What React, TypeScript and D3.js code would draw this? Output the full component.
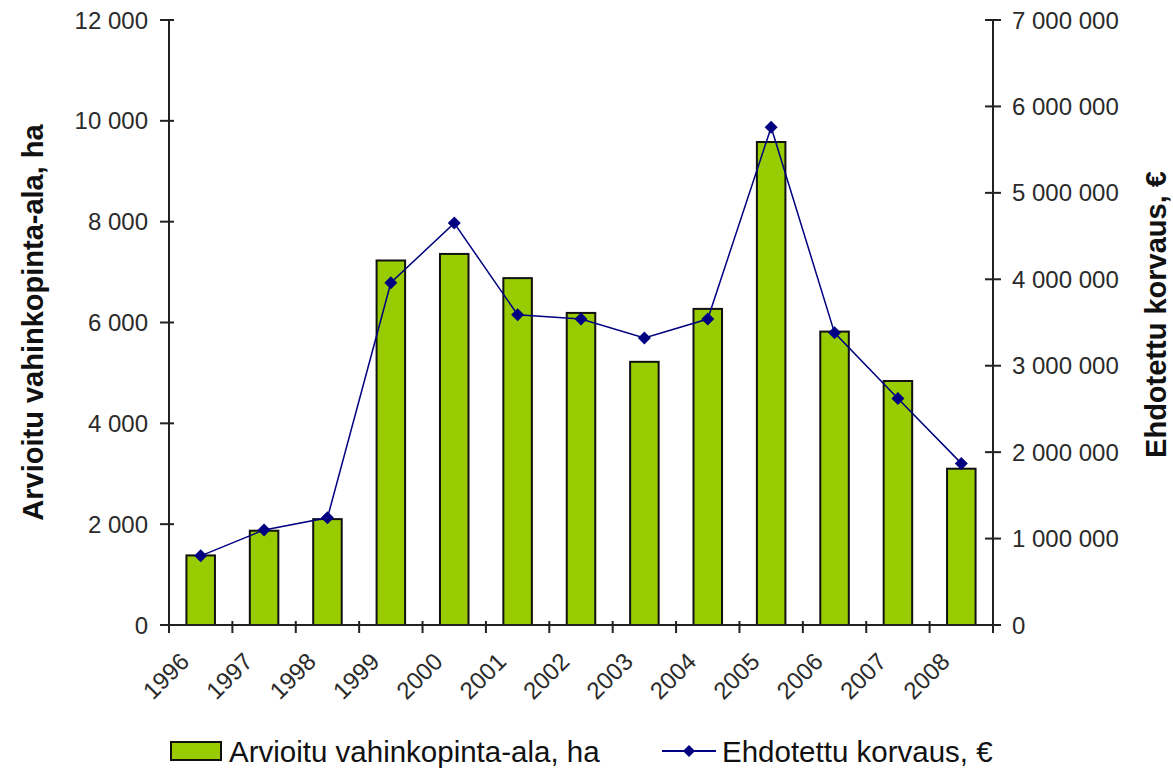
import React from "react";
import * as d3 from "d3";

// chart data
const years = ["1996", "1997", "1998", "1999", "2000", "2001", "2002", "2003", "2004", "2005", "2006", "2007", "2008"];
const areaHa = [1380, 1870, 2100, 7230, 7360, 6880, 6190, 5220, 6270, 9580, 5820, 4840, 3100];
const compensation = [800000, 1100000, 1240000, 3960000, 4650000, 3590000, 3540000, 3320000, 3540000, 5760000, 3380000, 2620000, 1870000];
const leftTicks = [0, 2000, 4000, 6000, 8000, 10000, 12000];
const rightTicks = [0, 1000000, 2000000, 3000000, 4000000, 5000000, 6000000, 7000000];

const W = 1173;
const H = 777;
const margin = { top: 20, right: 180, bottom: 152, left: 169 };
const FONT = "Arial, 'Liberation Sans', sans-serif";

// "12 000" style number format
const fmt = (v: number) => d3.format(",")(v).replace(/,/g, " ");

// square-ish diamond marker like the spreadsheet one
const diamondPath = (r: number) => `M0,${-r}L${r},0L0,${r}L${-r},0Z`;

export default function App() {
  const x0 = margin.left;
  const x1 = W - margin.right;
  const y0 = H - margin.bottom;
  const y1 = margin.top;

  const x = d3.scaleBand().domain(years).range([x0, x1]).paddingInner(0.55).paddingOuter(0.275);
  const band = d3.scaleBand().domain(years).range([x0, x1]);
  const yL = d3.scaleLinear().domain([0, 12000]).range([y0, y1]);
  const yR = d3.scaleLinear().domain([0, 7000000]).range([y0, y1]);

  const line = d3
    .line<number>()
    .x((_, i) => band(years[i])! + band.bandwidth() / 2)
    .y((d) => yR(d));

  const axisColor = "#222";
  const labelColor = "#2a2a2a";
  const tickFont = 24;

  return (
    <svg width={W} height={H} style={{ position: "absolute", left: 0, top: 0, background: "#fff" }} fontFamily={FONT}>
      {/* bars */}
      {areaHa.map((v, i) => (
        <rect
          key={years[i]}
          x={x(years[i])}
          y={yL(v)}
          width={x.bandwidth()}
          height={y0 - yL(v)}
          fill="#99CC00"
          stroke="#111"
          strokeWidth={2}
        />
      ))}

      {/* line series */}
      <path d={line(compensation) || ""} fill="none" stroke="#000080" strokeWidth={1.5} />
      {compensation.map((v, i) => (
        <path
          key={"m" + i}
          d={diamondPath(6.5)}
          transform={`translate(${band(years[i])! + band.bandwidth() / 2},${yR(v)})`}
          fill="#000080"
        />
      ))}

      {/* left axis */}
      <line x1={x0} x2={x0} y1={y1} y2={y0} stroke={axisColor} strokeWidth={2} />
      {leftTicks.map((t) => (
        <g key={"l" + t}>
          <line x1={x0 - 9} x2={x0 + 5} y1={yL(t)} y2={yL(t)} stroke={axisColor} strokeWidth={2} />
          <text x={x0 - 21} y={yL(t)} dy="0.36em" textAnchor="end" fontSize={tickFont} fill={labelColor}>
            {fmt(t)}
          </text>
        </g>
      ))}

      {/* right axis */}
      <line x1={x1} x2={x1} y1={y1} y2={y0} stroke={axisColor} strokeWidth={2} />
      {rightTicks.map((t) => (
        <g key={"r" + t}>
          <line x1={x1 - 8} x2={x1 + 8} y1={yR(t)} y2={yR(t)} stroke={axisColor} strokeWidth={2} />
          <text x={x1 + 19} y={yR(t)} dy="0.36em" textAnchor="start" fontSize={tickFont} fill={labelColor}>
            {fmt(t)}
          </text>
        </g>
      ))}

      {/* x axis */}
      <line x1={x0 - 9} x2={x1 + 8} y1={y0} y2={y0} stroke={axisColor} strokeWidth={2} />
      {years.map((yr) => (
        <line
          key={"xt" + yr}
          x1={band(yr)!}
          x2={band(yr)!}
          y1={y0 - 4}
          y2={y0 + 8}
          stroke={axisColor}
          strokeWidth={2}
        />
      ))}
      <line x1={x1} x2={x1} y1={y0 - 4} y2={y0 + 8} stroke={axisColor} strokeWidth={2} />
      {years.map((yr) => {
        const cx = band(yr)! + band.bandwidth() / 2 - 10;
        const cy = y0 + 38;
        return (
          <text
            key={"xl" + yr}
            x={cx}
            y={cy}
            textAnchor="end"
            fontSize={tickFont}
            fill={labelColor}
            transform={`rotate(-45 ${cx} ${cy})`}
          >
            {yr}
          </text>
        );
      })}

      {/* axis titles */}
      <text
        x={43}
        y={(y0 + y1) / 2}
        transform={`rotate(-90 43 ${(y0 + y1) / 2})`}
        textAnchor="middle"
        fontSize={29}
        fontWeight="bold"
        fill="#111"
      >
        Arvioitu vahinkopinta-ala, ha
      </text>
      <text
        x={1166}
        y={(y0 + y1) / 2 - 8}
        transform={`rotate(-90 1166 ${(y0 + y1) / 2 - 8})`}
        textAnchor="middle"
        fontSize={29}
        fontWeight="bold"
        fill="#111"
      >
        Ehdotettu korvaus, €
      </text>

      {/* legend */}
      <g>
        <rect x={171} y={742} width={50} height={18} fill="#99CC00" stroke="#111" strokeWidth={2} />
        <text x={229} y={762} fontSize={29.5} fill="#111">
          Arvioitu vahinkopinta-ala, ha
        </text>
        <line x1={662} x2={716} y1={751} y2={751} stroke="#000080" strokeWidth={2} />
        <path d={diamondPath(6)} transform="translate(689,751)" fill="#000080" />
        <text x={722} y={762} fontSize={29.5} fill="#111">
          Ehdotettu korvaus, €
        </text>
      </g>
    </svg>
  );
}
